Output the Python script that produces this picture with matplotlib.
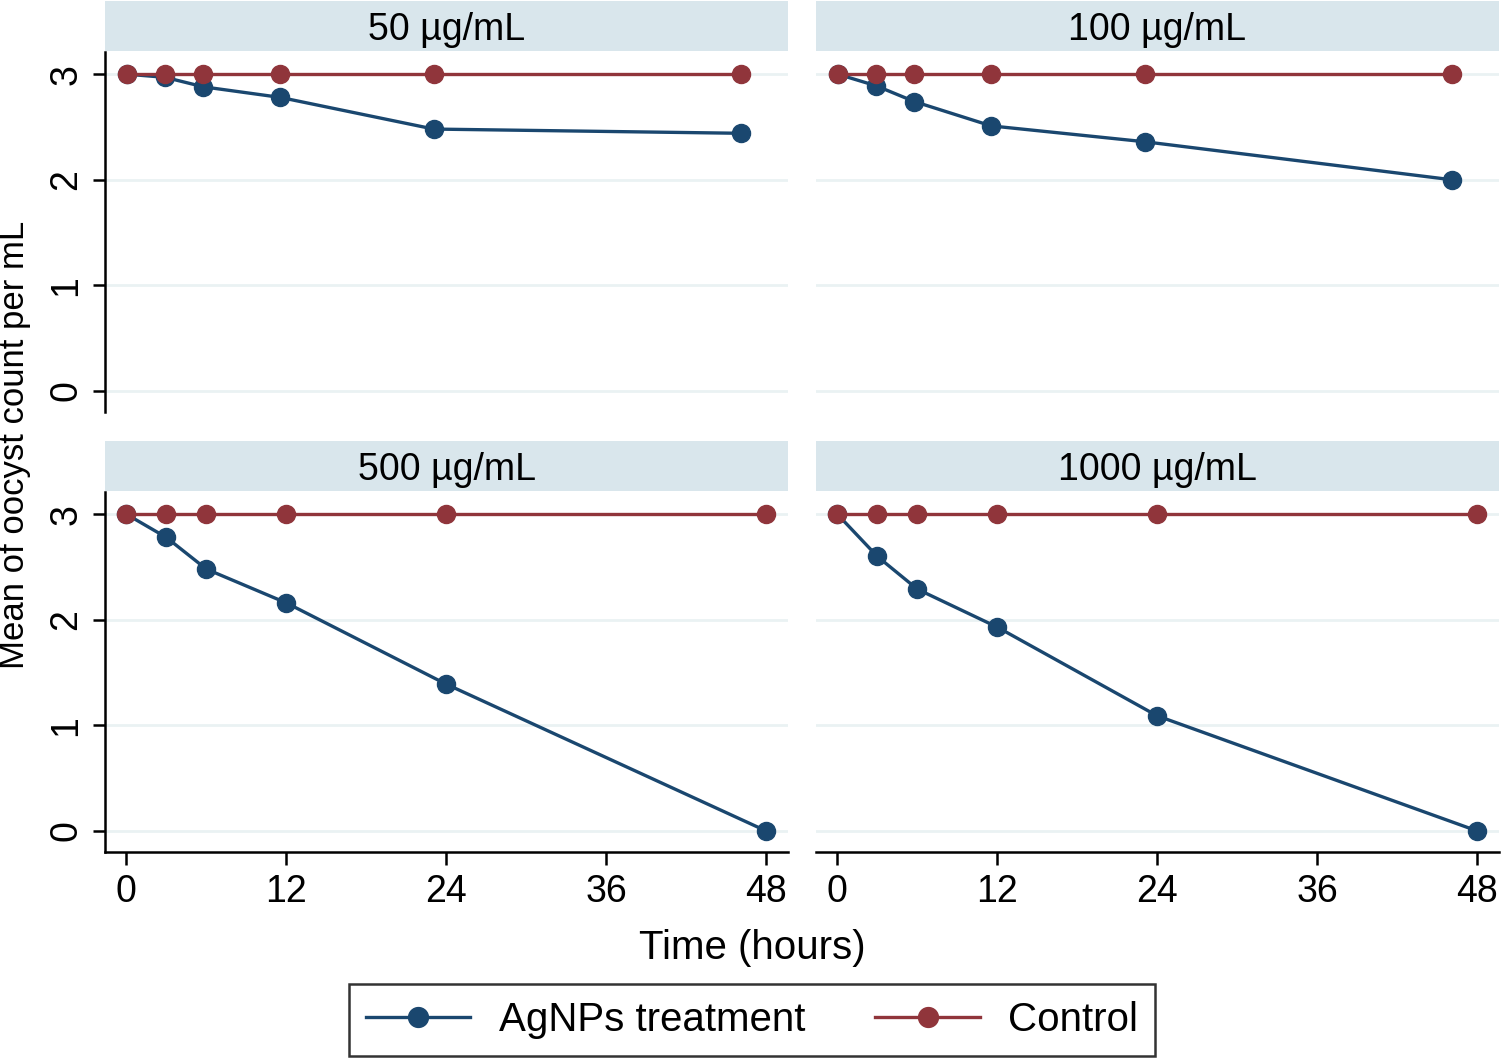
import matplotlib.pyplot as plt
from matplotlib.patches import Rectangle

# data
hours = [0, 3, 6, 12, 24, 48]
panels = ["50 µg/mL", "100 µg/mL", "500 µg/mL", "1000 µg/mL"]
agnps_50 = [3.0, 2.97, 2.88, 2.78, 2.48, 2.44]
agnps_100 = [3.0, 2.89, 2.74, 2.51, 2.36, 2.0]
agnps_500 = [3.0, 2.78, 2.48, 2.16, 1.39, 0.0]
agnps_1000 = [3.0, 2.60, 2.29, 1.93, 1.09, 0.0]
control = [3.0, 3.0, 3.0, 3.0, 3.0, 3.0]
x_ticks = [0, 12, 24, 36, 48]
y_ticks = [0, 1, 2, 3]

blue = '#1a476f'
red = '#90353b'
header_col = '#d9e6ec'
grid_col = '#eaf2f3'

plt.rcParams['font.family'] = ['Liberation Sans', 'DejaVu Sans']

W, H = 1502, 1062
fig = plt.figure(figsize=(W / 100, H / 100), dpi=100)


def px_box(x0, y0, x1, y1):
    return [x0 / W, 1 - y1 / H, (x1 - x0) / W, (y1 - y0) / H]


boxes = [
    px_box(105, 52, 788, 412),
    px_box(816, 52, 1499, 412),
    px_box(105, 492, 788, 852),
    px_box(816, 492, 1499, 852),
]
series = [agnps_50, agnps_100, agnps_500, agnps_1000]

for i, (box, title, vals) in enumerate(zip(boxes, panels, series)):
    ax = fig.add_axes(box)
    top_row = i < 2
    left_col = i % 2 == 0

    ax.set_ylim(-0.2, 3.21)
    if top_row:
        ax.set_xlim(-1.7, 51.7)
    else:
        ax.set_xlim(-1.6, 49.65)

    for yt in y_ticks:
        ax.axhline(yt, color=grid_col, lw=2, zorder=0)

    ax.plot(hours, vals, color=blue, lw=2.4, marker='o', ms=13,
            label='AgNPs treatment', zorder=3)
    ax.plot(hours, control, color=red, lw=2.4, marker='o', ms=13,
            label='Control', zorder=4)

    for s in ['top', 'right']:
        ax.spines[s].set_visible(False)
    ax.spines['left'].set_visible(left_col)
    ax.spines['bottom'].set_visible(not top_row)
    for s in ['left', 'bottom']:
        ax.spines[s].set_linewidth(1.8)

    ax.set_yticks(y_ticks)
    ax.set_xticks(x_ticks)
    ax.tick_params(axis='y', length=9, width=1.8, labelsize=27, pad=6,
                   left=left_col, labelleft=left_col, labelrotation=90)
    for lab in ax.get_yticklabels():
        lab.set_va('center')
    ax.tick_params(axis='x', length=9, width=1.8, labelsize=27, pad=7,
                   bottom=not top_row, labelbottom=not top_row)

    # strip header above the panel
    hdr_h = 50 / 360
    ax.add_patch(Rectangle((0, 1.003), 1, hdr_h, transform=ax.transAxes,
                           facecolor=header_col, edgecolor='none', clip_on=False))
    ax.text(0.5, 1.003 + hdr_h / 2 - 0.012, title, transform=ax.transAxes,
            ha='center', va='center', fontsize=27)

    if i == 0:
        handles, labels = ax.get_legend_handles_labels()

fig.text(15 / W, 1 - 445 / H, 'Mean of oocyst count per mL', rotation=90,
         ha='center', va='center', fontsize=25)
fig.text(752 / W, 1 - 948 / H, 'Time (hours)', ha='center', va='center',
         fontsize=29)

leg = fig.legend(handles, labels, loc='center', bbox_to_anchor=(752 / W, 1 - 1020 / H),
                 ncol=2, fontsize=29, frameon=True, fancybox=False,
                 handlelength=2.6, columnspacing=1.75, handletextpad=0.7,
                 borderpad=0.42, borderaxespad=0, markerscale=1.1)
leg.get_frame().set_edgecolor('black')
leg.get_frame().set_linewidth(1.8)

fig.savefig('out.png', dpi=100)
